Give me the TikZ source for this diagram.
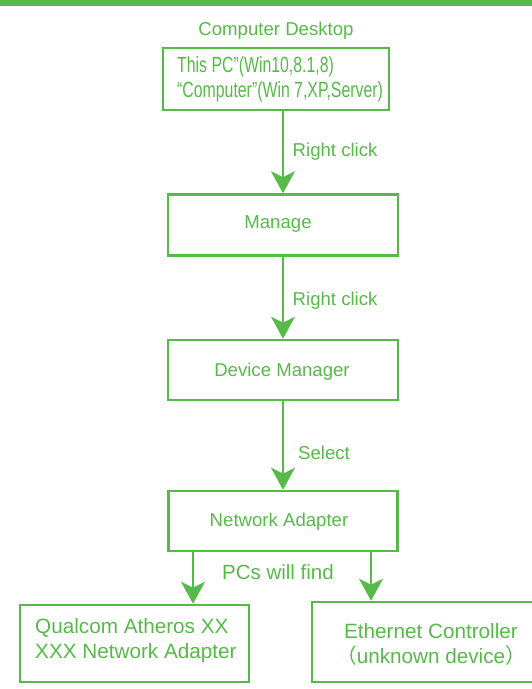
\documentclass[tikz,border=0pt]{standalone}
\usepackage{fontspec}
\setmainfont{Liberation Sans}
\newfontfamily\condfont[FakeStretch=0.72]{Liberation Sans}
\newfontfamily\cjkfont{Noto Sans CJK SC}
\usetikzlibrary{arrows.meta}
\definecolor{gr}{HTML}{55BA47}
\begin{document}
\begin{tikzpicture}[x=1pt,y=-1pt,
  box/.style={draw=gr, line width=2.6pt, inner sep=0pt},
  lbl/.style={text=gr, inner sep=0pt, font=\fontsize{18.6}{22}\selectfont},
  big/.style={text=gr, inner sep=0pt, font=\fontsize{20.7}{25}\selectfont},
  cond/.style={text=gr, inner sep=0pt, font=\condfont\fontsize{22}{25}\selectfont},
  arr/.style={draw=gr, line width=2.3pt, -{Stealth[length=22pt,width=24pt,inset=6pt]}}]
\useasboundingbox (0,0) rectangle (532,689);
\clip (0,0) rectangle (532,689);
\fill[gr] (0,0) rectangle (532,6);
% title
\node[lbl, anchor=base] (title) at (276,35) {Computer Desktop};
% top box
\node[box, minimum width=226pt, minimum height=62pt] (top) at (276,79) {};
\node[cond, anchor=base west] (t1) at (177,72) {This PC”(Win10,8.1,8)};
\node[cond, anchor=base west] (t2) at (177,97) {“Computer”(Win 7,XP,Server)};
% manage
\node[box, minimum width=230pt, minimum height=61pt] (manage) at (283,225) {};
\node[lbl, anchor=base] (managet) at (278,228) {Manage};
% device manager
\node[box, minimum width=230pt, minimum height=60pt] (devmgr) at (283,370) {};
\node[lbl, anchor=base] (devmgrt) at (282,376) {Device Manager};
% network adapter
\node[box, minimum width=229pt, minimum height=60pt] (netad) at (283,521) {};
\node[lbl, anchor=base] (netadt) at (279,526) {Network Adapter};
% bottom boxes
\node[box, minimum width=229pt, minimum height=77pt] (leftb) at (134.5,643.5) {};
\node[big, anchor=base west] (lb1) at (35,633) {Qualcom Atheros XX};
\node[big, anchor=base west] (lb2) at (35,658) {XXX Network Adapter};
\node[box, minimum width=240pt, minimum height=80pt] (rightb) at (432,642) {};
\node[big, anchor=base] (rb1) at (431,638) {Ethernet Controller};
\node[big, anchor=base] (rb2) at (431,663) {{\cjkfont （}unknown device{\cjkfont ）}};
% arrows
\draw[arr] (manage.north |- top.south) -- (manage.north);
\draw[arr] (manage.south) -- (devmgr.north);
\draw[arr] (devmgr.south) -- (netad.north);
\coordinate (la) at (193,560);
\coordinate (ra) at (371,560);
\draw[arr] (netad.south -| la) -- (leftb.north -| la);
\draw[arr] (netad.south -| ra) -- (rightb.north -| ra);
% arrow labels
\node[lbl, anchor=base west] (rc1) at (292.5,156) {Right click};
\node[lbl, anchor=base west] (rc2) at (292.5,305.5) {Right click};
\node[lbl, anchor=base west] (sel) at (298,459) {Select};
\node[lbl, anchor=base, font=\fontsize{20.5}{24}\selectfont] (pcs) at (278,579) {PCs will find};
\end{tikzpicture}
\end{document}
